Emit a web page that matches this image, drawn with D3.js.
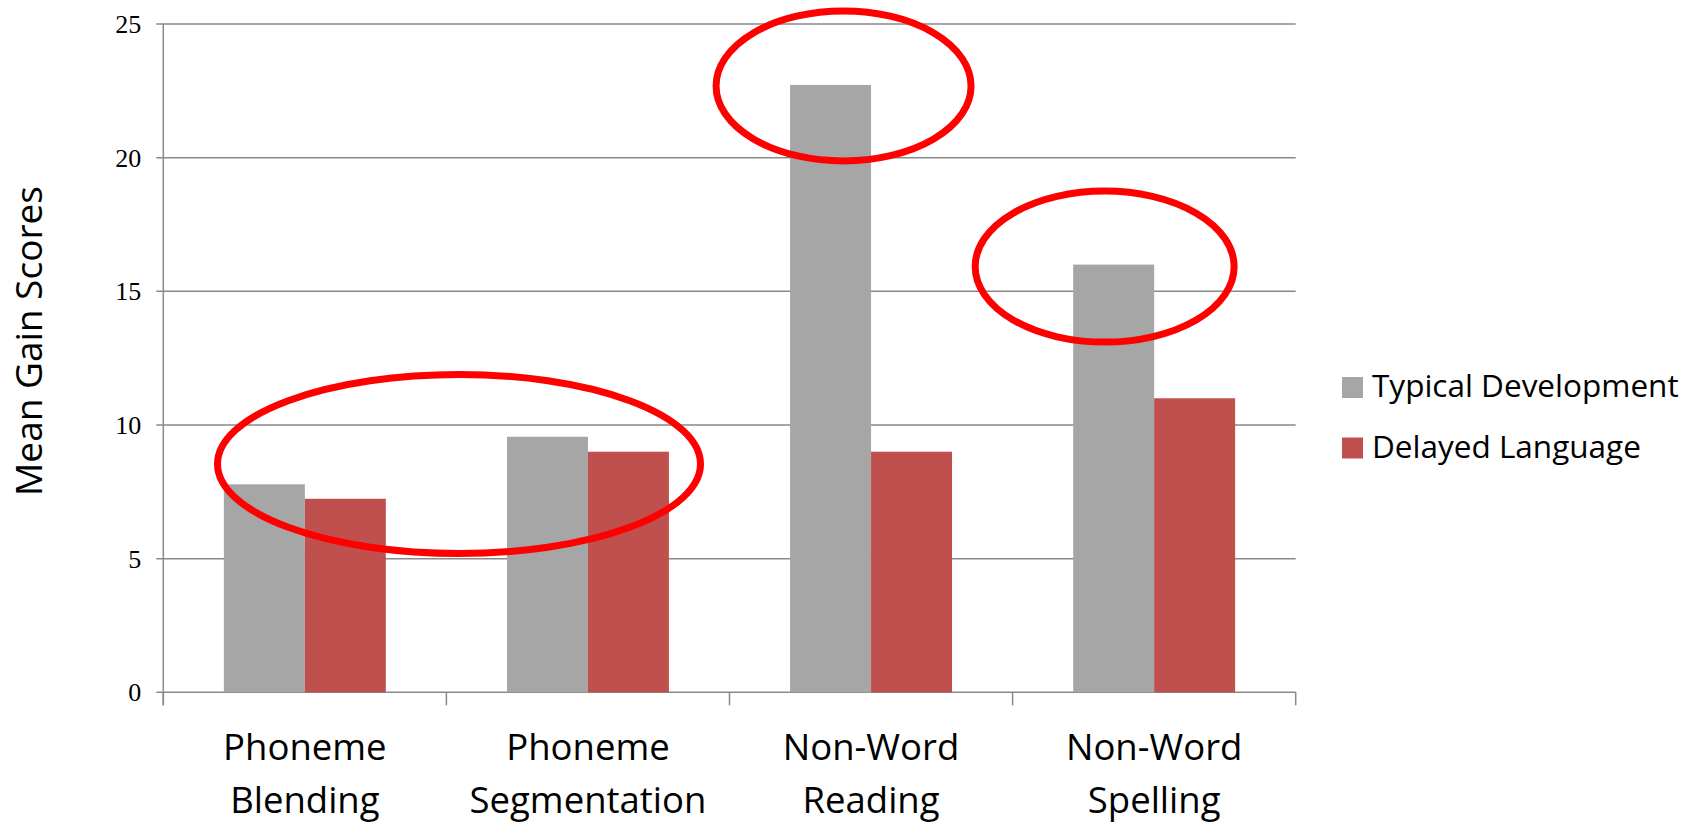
<!DOCTYPE html>
<html>
<head>
<meta charset="utf-8">
<script src="https://cdn.jsdelivr.net/npm/d3@7"></script>
<style>
  html, body { margin: 0; padding: 0; background: #fff; }
  svg { display: block; }
</style>
</head>
<body>
<svg id="chart" width="1705" height="822"></svg>
<script>
// Gain scores per measure, for each group
const categories = [["Phoneme", "Blending"], ["Phoneme", "Segmentation"], ["Non-Word", "Reading"], ["Non-Word", "Spelling"]];
const seriesNames = ["Typical Development", "Delayed Language"];
const typicalDevelopment = [7.78, 9.56, 22.72, 16.0];
const delayedLanguage = [7.24, 9.0, 9.0, 11.0];
const yTicks = [0, 5, 10, 15, 20, 25];
const seriesColors = ["#A6A6A6", "#C0504D"];

// Highlighted regions: groups of category indices to ring
const highlights = [[0, 1], [2], [3]];

const svg = d3.select("#chart");
const margin = { left: 163.3, right: 1295.7, top: 24, bottom: 692.3 };

const keys = categories.map(c => c.join(" "));
const x = d3.scaleBand().domain(keys).range([margin.left, margin.right]).paddingInner(0).paddingOuter(0);
const x1 = d3.scaleBand().domain(seriesNames).range([0, x.bandwidth()]).paddingOuter(0.748).paddingInner(0);
const y = d3.scaleLinear().domain([0, 25]).range([margin.bottom, margin.top]);

const gridColor = "#898989";

// horizontal gridlines
svg.append("g").selectAll("line").data(yTicks).join("line")
  .attr("x1", margin.left - 7).attr("x2", margin.right)
  .attr("y1", d => y(d)).attr("y2", d => y(d))
  .attr("stroke", gridColor).attr("stroke-width", 1.5);

// y axis line
svg.append("line")
  .attr("x1", margin.left).attr("x2", margin.left)
  .attr("y1", y(25)).attr("y2", y(0) + 13)
  .attr("stroke", gridColor).attr("stroke-width", 1.5);

// category boundary ticks
const boundaries = keys.map(k => x(k)).concat([margin.right]);
svg.append("g").selectAll("line").data(boundaries).join("line")
  .attr("x1", d => d).attr("x2", d => d)
  .attr("y1", y(0)).attr("y2", y(0) + 13)
  .attr("stroke", gridColor).attr("stroke-width", 1.5);

// y tick labels
svg.append("g").selectAll("text").data(yTicks).join("text")
  .attr("x", margin.left - 22).attr("y", d => y(d))
  .attr("dy", "0.35em")
  .attr("text-anchor", "end")
  .attr("font-family", "'Liberation Serif', 'Times New Roman', serif")
  .attr("font-size", 26)
  .attr("fill", "#000")
  .text(d => d);

// bars
const rows = keys.map((k, i) => ({ key: k, values: [typicalDevelopment[i], delayedLanguage[i]] }));
const groups = svg.append("g").selectAll("g").data(rows).join("g")
  .attr("transform", d => `translate(${x(d.key)},0)`);
groups.selectAll("rect").data(d => d.values.map((v, j) => ({ name: seriesNames[j], v, j })))
  .join("rect")
  .attr("x", d => x1(d.name))
  .attr("width", x1.bandwidth())
  .attr("y", d => y(d.v))
  .attr("height", d => y(0) - y(d.v))
  .attr("fill", d => seriesColors[d.j]);

// category labels (two lines)
const labelFont = "'Open Sans', 'Noto Sans', sans-serif";
svg.append("g").selectAll("text").data(categories).join("text")
  .attr("x", (d, i) => x(keys[i]) + x.bandwidth() / 2)
  .attr("y", 760)
  .attr("text-anchor", "middle")
  .attr("font-family", labelFont)
  .attr("font-size", 36.5)
  .attr("fill", "#000")
  .selectAll("tspan").data(d => d).join("tspan")
  .attr("x", function () { return this.parentNode.getAttribute("x"); })
  .attr("dy", (d, i) => i === 0 ? 0 : 53)
  .text(d => d);

// y axis title
svg.append("text")
  .attr("transform", `translate(42,341) rotate(-90)`)
  .attr("text-anchor", "middle")
  .attr("font-family", labelFont)
  .attr("font-size", 37)
  .attr("fill", "#000")
  .text("Mean Gain Scores");

// legend
const legend = svg.append("g").selectAll("g").data(seriesNames).join("g")
  .attr("transform", (d, i) => `translate(1342,${377 + i * 60.5})`);
legend.append("rect").attr("width", 21).attr("height", 21)
  .attr("fill", (d, i) => seriesColors[i]);
legend.append("text")
  .attr("x", 30).attr("y", 20)
  .attr("font-family", labelFont)
  .attr("font-size", 31.5)
  .attr("fill", "#000")
  .text(d => d);

// red rings around highlighted regions
const ringSpecs = highlights.map(idx => {
  const firstKey = keys[idx[0]];
  const lastKey = keys[idx[idx.length - 1]];
  const topVal = d3.max(idx, i => typicalDevelopment[i]);
  return { idx, firstKey, lastKey, topVal };
});
const barCenter = k => x(k) + x1(seriesNames[0]) + x1.bandwidth() / 2;
const ringGeom = [
  // span of the two phoneme measures
  s => ({ cx: (x(s.firstKey) + x(s.lastKey) + x.bandwidth()) / 2 + 12.6, cy: y(8.54), rx: 241.5, ry: 89.5 }),
  // tall reading bar
  s => ({ cx: barCenter(s.firstKey) + 13, cy: y(s.topVal) + 1, rx: 127.5, ry: 75 }),
  // spelling bar
  s => ({ cx: barCenter(s.firstKey) - 9, cy: y(s.topVal) + 2, rx: 129.5, ry: 75.5 })
];
svg.append("g").selectAll("ellipse").data(ringSpecs).join("ellipse")
  .each(function (d, i) {
    const g = ringGeom[i](d);
    d3.select(this).attr("cx", g.cx).attr("cy", g.cy).attr("rx", g.rx).attr("ry", g.ry);
  })
  .attr("fill", "none")
  .attr("stroke", "#FF0000")
  .attr("stroke-width", 7);
</script>
</body>
</html>
